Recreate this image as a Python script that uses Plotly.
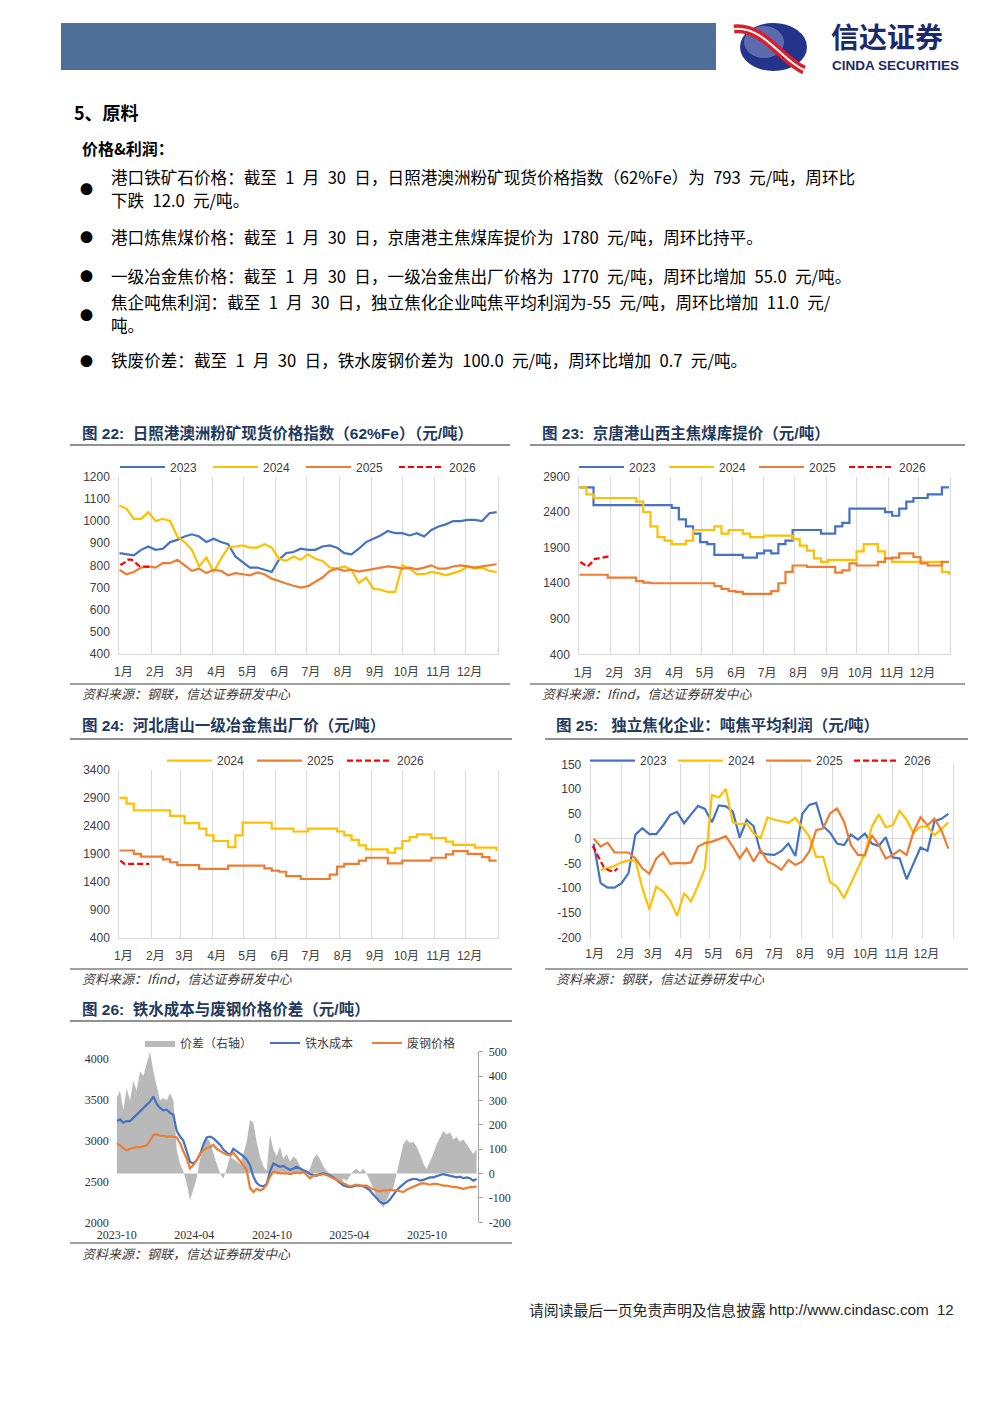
import pandas as pd
import plotly.graph_objects as go

W, H = 1000, 1414
def fx(x): return x / W
def fy(y): return 1 - y / H

CJK = "Noto Sans CJK SC"
SANS = "Liberation Sans, Noto Sans CJK SC"
SERIF = "Liberation Serif, Noto Sans CJK SC"

MONTHS = [f"{m}月" for m in range(1, 13)]
COLORS = {"2023": "#4472C4", "2024": "#FFC000", "2025": "#ED7D31", "2026": "#FF0000"}

# ---------- 图22 日照港澳洲粉矿现货价格指数 (weekly) ----------
ORE_2023 = [855, 850, 845, 870, 885, 870, 875, 905, 915, 930, 940, 930, 905, 920, 905, 895, 840, 815, 790, 790,
            780, 770, 825, 855, 860, 875, 870, 870, 885, 890, 880, 855, 850, 875, 905, 920, 935, 955, 945, 945,
            935, 945, 930, 960, 975, 985, 1000, 1000, 1005, 1005, 1000, 1035, 1040]
ORE_2024 = [1070, 1055, 1010, 1010, 1040, 1000, 1010, 1000, 930, 905, 870, 795, 835, 770, 830, 880, 885, 890, 880, 880,
            895, 880, 830, 820, 840, 825, 850, 830, 820, 790, 785, 795, 780, 720, 745, 695, 690, 680, 680, 800,
            785, 760, 760, 770, 765, 755, 765, 775, 795, 785, 790, 775, 770]
ORE_2025 = [780, 760, 770, 790, 795, 790, 810, 810, 825, 800, 775, 785, 765, 780, 775, 755, 765, 760, 755, 768,
            760, 740, 728, 718, 708, 700, 706, 725, 745, 775, 785, 775, 780, 772, 778, 782, 790, 795, 792, 785,
            790, 782, 790, 800, 785, 785, 795, 800, 795, 790, 795, 800, 805]
DAYS_2026 = ["01-02", "01-06", "01-09", "01-13", "01-16", "01-20", "01-23", "01-27", "01-30"]
ORE_2026 = [802, 812, 826, 826, 814, 798, 795, 793, 793]

# ---------- 图23 京唐港山西主焦煤库提价 ----------
COKING_2023 = [2750, 2750] + [2500] * 11 + [2460, 2300, 2200, 2100, 1980, 1950] + [1800] * 4 + \
              [1760, 1760, 1820, 1860, 1820, 1950, 2000] + [2150] * 4 + [2100, 2100, 2200, 2250] + [2450] * 5 + \
              [2400, 2350, 2450, 2550, 2600, 2600, 2650, 2650, 2750, 2750]
COKING_2024 = [2750, 2650] + [2600] * 6 + [2550, 2400, 2200, 2050, 2000, 1950, 1950, 2000, 2150, 2150, 2150, 2200,
              2100, 2150, 2150, 2100, 2050, 2050] + [2070] * 4 + [2020, 1930, 1860, 1750, 1700] + [1730] * 4 + \
              [1850, 1950, 1950, 1850, 1750] + [1700] * 7 + [1560, 1520]
COKING_2025 = [1520] * 4 + [1480] * 4 + [1430, 1410] + [1400] * 9 + [1360, 1320, 1290, 1280] + [1250] * 4 + \
              [1290, 1400, 1560, 1650, 1650] + [1630] * 4 + [1550, 1580, 1680] + [1650] * 3 + \
              [1700, 1750, 1760, 1820, 1820, 1770, 1680, 1650, 1650, 1700, 1700]
COKING_2026 = [1700, 1660, 1635, 1690, 1740, 1750, 1760, 1775, 1780]

# ---------- 图24 河北唐山一级冶金焦出厂价 ----------
COKE_2024 = [2900, 2800] + [2680] * 5 + [2580, 2580, 2450, 2450, 2350, 2230, 2130, 2130, 2020, 2230] + [2460] * 4 + \
            [2350] * 3 + [2300, 2300] + [2350] * 4 + [2300, 2230, 2150, 2050] + [1980] * 3 + \
            [1920, 2000, 2130, 2200, 2250, 2250, 2180, 2180, 2120] + [2060] * 3 + [2010] * 3 + [1950]
COKE_2025 = [1960, 1960, 1900, 1850, 1850, 1850, 1800, 1750, 1700, 1700, 1700] + [1630] * 4 + [1690] * 5 + \
            [1640, 1600, 1580, 1500, 1500] + [1450] * 4 + [1530, 1670, 1720, 1720, 1780] + [1830] * 3 + \
            [1730, 1730] + [1780] * 4 + [1830, 1830, 1890, 1950, 1950, 1900, 1900, 1840, 1780, 1780]
COKE_2026 = [1780, 1720, 1720, 1720, 1720, 1720, 1720, 1720, 1720]

# ---------- 图25 独立焦化企业吨焦平均利润 (weekly) ----------
PROFIT_2023 = [-10, -90, -99, -99, -90, -70, 8, 21, 9, 9, 27, 48, 54, 31, 49, 66, 60, 33, 67, 65,
               55, 2, 38, 25, -28, -32, -33, -25, -10, -35, 50, 68, 72, 25, 12, -10, -13, 8, -2, 10,
               -10, -15, 3, -38, -40, -82, -50, -18, -25, 35, 40, 50]
PROFIT_2024 = [None, -63, -60, -55, -48, -44, -44, -100, -143, -97, -107, -125, -156, -110, -127, -95, -60, 88, 83, 100,
               33, 29, 31, 10, 1, 43, 38, 35, 32, 42, 24, 4, -37, -37, -88, -97, -120, -90, -60, -30,
               24, 49, 23, 27, 56, 38, 11, 24, 24, 7, 19, 33]
PROFIT_2025 = [0, -16, -8, -28, -28, -28, -40, -60, -71, -40, -28, -51, -49, -50, -48, -16, -9, -6, -1, 5,
               -16, -40, -20, -46, -23, -46, -53, -63, -43, -53, -46, -26, 17, 21, 51, 61, 34, -13, -33, -34,
               7, -13, -40, -33, -23, -33, 14, 43, 27, 40, 17, -20]
PROFIT_DAYS_2026 = ["01-03", "01-09", "01-14", "01-19", "01-24", "01-28"]
PROFIT_2026 = [-15, -38, -57, -64, -67, -60]

# ---------- 图26 铁水成本与废钢价格价差 ----------
SPREAD_START, SPREAD_END = "2023-10-01", "2026-01-26"
COST = [3240, 3260, 3220, 3240, 3240, 3280, 3320, 3350, 3400, 3440,
        3480, 3540, 3450, 3400, 3370, 3380, 3340, 3320, 3120, 3050,
        3000, 2870, 2740, 2720, 2760, 2830, 2950, 3040, 3050, 3030,
        2990, 2950, 2890, 2850, 2820, 2900, 2870, 2850, 2810, 2770,
        2700, 2560, 2480, 2450, 2440, 2470, 2620, 2720, 2700, 2680,
        2690, 2670, 2640, 2660, 2680, 2660, 2640, 2620, 2590, 2580,
        2570, 2590, 2600, 2590, 2580, 2550, 2520, 2480, 2450, 2440,
        2430, 2440, 2450, 2450, 2440, 2420, 2390, 2340, 2290, 2250,
        2230, 2240, 2280, 2340, 2390, 2430, 2470, 2500, 2520, 2530,
        2530, 2510, 2520, 2540, 2550, 2550, 2570, 2580, 2590, 2580,
        2570, 2560, 2550, 2560, 2540, 2550, 2540, 2510, 2530]
SCRAP = [2970, 2940, 2900, 2880, 2900, 2910, 2920, 2920, 2930, 2940,
         3000, 3070, 3080, 3060, 3060, 3050, 3050, 3050, 3040, 2970,
         2870, 2780, 2660, 2700, 2760, 2840, 2880, 2910, 2920, 2950,
         2900, 2870, 2850, 2830, 2820, 2850, 2800, 2760, 2700, 2640,
         2420, 2370, 2410, 2390, 2410, 2460, 2560, 2620, 2610, 2600,
         2600, 2600, 2590, 2600, 2610, 2600, 2620, 2580, 2540, 2570,
         2580, 2580, 2590, 2580, 2560, 2530, 2510, 2490, 2470, 2450,
         2440, 2450, 2460, 2450, 2450, 2450, 2420, 2400, 2390, 2380,
         2390, 2390, 2400, 2390, 2390, 2380, 2370, 2400, 2420, 2440,
         2450, 2470, 2480, 2470, 2460, 2470, 2470, 2460, 2450, 2450,
         2440, 2430, 2430, 2420, 2410, 2420, 2430, 2430, 2440]
SPREAD = [310, 340, 260, 350, 300, 380, 340, 420, 400, 450,
          500, 420, 360, 300, 310, 300, 330, 300, 100, 40,
          10, -40, -110, -60, -20, 60, 110, 150, 130, 80,
          40, 0, -20, 20, 70, 60, 50, 40, 80, 130,
          220, 210, 130, 70, 30, 10, 160, 100, 70, 110,
          60, 80, 50, 70, 60, 30, 10, 0, 20, 60,
          80, 60, 30, 10, 0, -10, -30, -40, -20, -30,
          -10, 10, 20, 5, 20, 0, -30, -60, -100, -120,
          -140, -110, -80, -60, 0, 70, 120, 140, 125, 130,
          110, 80, 40, 20, 50, 80, 120, 150, 175, 160,
          170, 140, 150, 130, 140, 120, 100, 80, 100]
SPREAD_TICKS = ["2023-10-01", "2024-04-01", "2024-10-01", "2025-04-01", "2025-10-01"]


def weeks(n, start="2001-01-01"):
    return pd.date_range(start, periods=n, freq="7D")


def days26(days):
    return ["2001-" + d for d in days]


fig = go.Figure()


def season(x, y, name, legend, xa, ya, shape="linear"):
    dash = "6px,3px" if name == "2026" else None
    fig.add_trace(go.Scatter(x=x, y=y, name=name, mode="lines", legend=legend, xaxis=xa, yaxis=ya,
                             line=dict(color=COLORS[name], width=2.2, dash=dash, shape=shape),
                             hoverinfo="skip"))


# 图22
season(weeks(len(ORE_2023)), ORE_2023, "2023", "legend", "x", "y")
season(weeks(len(ORE_2024)), ORE_2024, "2024", "legend", "x", "y")
season(weeks(len(ORE_2025)), ORE_2025, "2025", "legend", "x", "y")
season(days26(DAYS_2026), ORE_2026, "2026", "legend", "x", "y")
# 图23
season(weeks(len(COKING_2023)), COKING_2023, "2023", "legend2", "x2", "y2", "hv")
season(weeks(len(COKING_2024)), COKING_2024, "2024", "legend2", "x2", "y2", "hv")
season(weeks(len(COKING_2025)), COKING_2025, "2025", "legend2", "x2", "y2", "hv")
season(days26(DAYS_2026), COKING_2026, "2026", "legend2", "x2", "y2")
# 图24
season(weeks(len(COKE_2024)), COKE_2024, "2024", "legend3", "x3", "y3", "hv")
season(weeks(len(COKE_2025)), COKE_2025, "2025", "legend3", "x3", "y3", "hv")
season(days26(DAYS_2026), COKE_2026, "2026", "legend3", "x3", "y3")
# 图25
season(weeks(len(PROFIT_2023), "2001-01-04"), PROFIT_2023, "2023", "legend4", "x4", "y4")
season(weeks(len(PROFIT_2024), "2001-01-04"), PROFIT_2024, "2024", "legend4", "x4", "y4")
season(weeks(len(PROFIT_2025), "2001-01-04"), PROFIT_2025, "2025", "legend4", "x4", "y4")
season(days26(PROFIT_DAYS_2026), PROFIT_2026, "2026", "legend4", "x4", "y4")
# 图26
d26 = pd.date_range(SPREAD_START, SPREAD_END, periods=len(SPREAD))
fig.add_trace(go.Scatter(x=d26, y=SPREAD, name="价差（右轴）", mode="lines", fill="tozeroy",
                         fillcolor="#b9b9b9", line=dict(width=0, color="#b9b9b9"),
                         legend="legend5", legendwidth=80, xaxis="x5", yaxis="y5", hoverinfo="skip"))
fig.add_trace(go.Scatter(x=d26, y=COST, name="铁水成本", mode="lines", line=dict(color="#4472C4", width=2.2),
                         legend="legend5", legendwidth=57, xaxis="x5", yaxis="y6", hoverinfo="skip"))
fig.add_trace(go.Scatter(x=d26, y=SCRAP, name="废钢价格", mode="lines", line=dict(color="#ED7D31", width=2.2),
                         legend="legend5", legendwidth=50, xaxis="x5", yaxis="y6", hoverinfo="skip"))

GRID = "#d9d9d9"
TICKFONT = dict(family=SANS, size=12, color="#404040")
SERIFFONT = dict(family=SERIF, size=12, color="#333333")


def month_axis(left, right, anchor, line=True):
    return dict(domain=[fx(left), fx(right)], anchor=anchor, type="date",
                range=["2001-01-01", "2002-01-01"], tickmode="array",
                tickvals=[f"2001-{m:02d}-01" for m in range(1, 13)] + ["2002-01-01"],
                ticktext=MONTHS + [""], showgrid=True, gridcolor=GRID, gridwidth=1,
                zeroline=False, showline=line, linecolor=GRID, ticks="", automargin=False,
                tickfont=TICKFONT, ticklabelshift=4, ticklabelstandoff=7, fixedrange=True)


def value_axis(top, bottom, anchor, lo, hi, step, zero=False):
    vals = list(range(lo, hi + 1, step))
    return dict(domain=[fy(bottom), fy(top)], anchor=anchor, range=[lo, hi], tickmode="array",
                tickvals=vals, ticktext=[str(v) for v in vals], showgrid=False,
                zeroline=zero, zerolinecolor=GRID, zerolinewidth=1, automargin=False,
                showline=True, mirror=True, linecolor=GRID, ticks="",
                tickfont=TICKFONT, ticklabelstandoff=6, fixedrange=True)


def legend_spec(left, yc, entry, itemwidth=45):
    return dict(x=fx(left), y=fy(yc), xanchor="left", yanchor="middle", orientation="h",
                entrywidth=entry, itemwidth=itemwidth, traceorder="normal",
                font=dict(family=SANS, size=12, color="#404040"),
                bgcolor="rgba(0,0,0,0)", borderwidth=0, itemclick=False, itemdoubleclick=False)


r_vals = list(range(-200, 501, 100))
l_vals = list(range(2000, 4001, 500))

fig.update_layout(
    width=W, height=H, margin=dict(l=0, r=0, t=0, b=0, pad=0, autoexpand=False), autosize=False,
    paper_bgcolor="white", plot_bgcolor="white", showlegend=True,
    xaxis=month_axis(119.3, 497.7, "y"),
    yaxis=value_axis(476.7, 654.0, "x", 400, 1200, 100),
    xaxis2=month_axis(579.3, 950.0, "y2"),
    yaxis2=value_axis(476.7, 654.3, "x2", 400, 2900, 500),
    xaxis3=month_axis(119.3, 497.7, "y3"),
    yaxis3=value_axis(770.0, 937.7, "x3", 400, 3400, 500),
    xaxis4=month_axis(590.7, 953.3, "y4", line=False),
    yaxis4=value_axis(764.3, 937.7, "x4", -200, 150, 50, zero=True),
    xaxis5=dict(domain=[fx(116.7), fx(478.3)], anchor="y5", type="date",
                range=["2023-10-01", "2026-01-30"], tickmode="array", tickvals=SPREAD_TICKS,
                ticktext=[t[:7] for t in SPREAD_TICKS], showgrid=False, zeroline=False,
                showline=False, ticks="", tickfont=SERIFFONT, ticklabelstandoff=4,
                automargin=False, fixedrange=True),
    yaxis5=dict(domain=[fy(1222.3), fy(1051.7)], anchor="x5", side="right", range=[-200, 500],
                tickmode="array", tickvals=r_vals, ticktext=[str(v) for v in r_vals],
                showgrid=False, zeroline=False, showline=True, linecolor="#a6a6a6",
                ticks="outside", ticklen=4, tickcolor="#a6a6a6", tickfont=SERIFFONT,
                ticklabelstandoff=3, automargin=False, fixedrange=True),
    yaxis6=dict(domain=[fy(1222.3), fy(1051.7)], anchor="x5", overlaying="y5", side="left",
                range=[2000, 4089], tickmode="array", tickvals=l_vals, ticktext=[str(v) for v in l_vals],
                showgrid=False, zeroline=False, showline=False, ticks="", tickfont=SERIFFONT,
                ticklabelstandoff=7, automargin=False, fixedrange=True),
    legend=legend_spec(115, 467, 33),
    legend2=legend_spec(574, 467, 30),
    legend3=legend_spec(162, 760.7, 30),
    legend4=legend_spec(585, 760.7, 28),
    legend5=dict(x=fx(140), y=fy(1043), xanchor="left", yanchor="middle", orientation="h",
                 itemwidth=30, traceorder="normal", font=dict(family=CJK, size=12, color="#404040"),
                 bgcolor="rgba(0,0,0,0)", borderwidth=0, itemclick=False, itemdoubleclick=False),
)


def hline(x0, x1, y, color="#6e6e6e", width=1.5):
    return dict(type="line", xref="paper", yref="paper", x0=fx(x0), x1=fx(x1), y0=fy(y), y1=fy(y),
                line=dict(color=color, width=width), layer="above")


def ppath(cmds):
    out = []
    for c in cmds:
        if isinstance(c, str):
            out.append(c)
        else:
            out.append(f"{fx(c[0])},{fy(c[1])}")
    return " ".join(out)


SWOOSH = ["M", (734, 29), "C", (764, 26), (781, 60), (804, 70)]
shapes = [
    dict(type="rect", xref="paper", yref="paper", x0=fx(61), x1=fx(716), y0=fy(70), y1=fy(23),
         fillcolor="#4d6f98", line=dict(width=0)),
    dict(type="circle", xref="paper", yref="paper", x0=fx(740), x1=fx(807), y0=fy(71), y1=fy(23),
         fillcolor="#23348a", line=dict(width=0)),
    dict(type="circle", xref="paper", yref="paper", x0=fx(744), x1=fx(784), y0=fy(58), y1=fy(26),
         fillcolor="rgba(200,210,240,0.35)", line=dict(width=0)),
    dict(type="path", xref="paper", yref="paper", path=ppath(SWOOSH),
         line=dict(color="#d8202a", width=9)),
    dict(type="path", xref="paper", yref="paper", path=ppath(SWOOSH),
         line=dict(color="#ffffff", width=2)),
    hline(70, 510, 445), hline(70, 510, 684, "#808080", 1.5),
    hline(530, 965, 445), hline(530, 965, 684, "#808080", 1.5),
    hline(70, 512, 739), hline(70, 512, 969, "#808080", 1.5),
    hline(545, 968, 739), hline(545, 968, 969, "#808080", 1.5),
    hline(70, 512, 1021), hline(70, 512, 1243, "#808080", 1.5),
]


def note(x, y, text, size, color="#000000", family=CJK, xanchor="left", yanchor="middle"):
    return dict(x=fx(x), y=fy(y), xref="paper", yref="paper", text=text, showarrow=False,
                xanchor=xanchor, yanchor=yanchor, align="left", borderpad=0,
                font=dict(family=family, size=size, color=color))


SP = "\u2002"
TITLE_C = "#1f3a60"
SRC_C = "#404040"
BODY = 16.6
TS = 15.5
annotations = [
    note(830, 57.5, "<b>信达证券</b>", 28, "#1b2a6b", yanchor="bottom"),
    note(831, 57.5, "<b>CINDA SECURITIES</b>", 13.5, "#1b2a6b", SANS, yanchor="top"),
    note(73, 112, "<b>5、原料</b>", 18),
    note(81, 148, "<b>价格&amp;利润：</b>", 16),
    note(79, 188, "●", 13), note(79, 237, "●", 13), note(79, 276, "●", 13),
    note(79, 314, "●", 13), note(79, 360, "●", 13),
    note(110, 177, f"港口铁矿石价格：截至{SP}1{SP}月{SP}30{SP}日，日照港澳洲粉矿现货价格指数（62%Fe）为{SP}793{SP}元/吨，周环比", BODY),
    note(110, 200, f"下跌{SP}12.0{SP}元/吨。", BODY),
    note(110, 237, f"港口炼焦煤价格：截至{SP}1{SP}月{SP}30{SP}日，京唐港主焦煤库提价为{SP}1780{SP}元/吨，周环比持平。", BODY),
    note(110, 276, f"一级冶金焦价格：截至{SP}1{SP}月{SP}30{SP}日，一级冶金焦出厂价格为{SP}1770{SP}元/吨，周环比增加{SP}55.0{SP}元/吨。", BODY),
    note(110, 302, f"焦企吨焦利润：截至{SP}1{SP}月{SP}30{SP}日，独立焦化企业吨焦平均利润为-55{SP}元/吨，周环比增加{SP}11.0{SP}元/", BODY),
    note(110, 325, "吨。", BODY),
    note(110, 360, f"铁废价差：截至{SP}1{SP}月{SP}30{SP}日，铁水废钢价差为{SP}100.0{SP}元/吨，周环比增加{SP}0.7{SP}元/吨。", BODY),
    note(81, 433, "<b>图 22:  日照港澳洲粉矿现货价格指数（62%Fe）（元/吨）</b>", TS, TITLE_C, SANS),
    note(541, 433, "<b>图 23:  京唐港山西主焦煤库提价（元/吨）</b>", TS, TITLE_C, SANS),
    note(81, 725, "<b>图 24:  河北唐山一级冶金焦出厂价（元/吨）</b>", TS, TITLE_C, SANS),
    note(555, 725, "<b>图 25:   独立焦化企业：吨焦平均利润（元/吨）</b>", TS, TITLE_C, SANS),
    note(81, 1009, "<b>图 26:  铁水成本与废钢价格价差（元/吨）</b>", TS, TITLE_C, SANS),
    note(81, 693, "<i>资料来源：钢联，信达证券研发中心</i>", 13, SRC_C),
    note(541, 693, "<i>资料来源：Ifind，信达证券研发中心</i>", 13, SRC_C),
    note(81, 978, "<i>资料来源：Ifind，信达证券研发中心</i>", 13, SRC_C),
    note(555, 978, "<i>资料来源：钢联，信达证券研发中心</i>", 13, SRC_C),
    note(81, 1253, "<i>资料来源：钢联，信达证券研发中心</i>", 13, SRC_C),
    note(528, 1309, "请阅读最后一页免责声明及信息披露", 14.8, "#262626"),
    note(768, 1309, "http://www.cindasc.com", 15.3, "#262626", "Liberation Sans"),
    note(936, 1309, "12", 15, "#262626", "Liberation Sans"),
]

fig.update_layout(shapes=shapes, annotations=annotations)

fig.write_html("out.html", config={"displayModeBar": False},
               post_script="document.body.style.margin='0px';")
